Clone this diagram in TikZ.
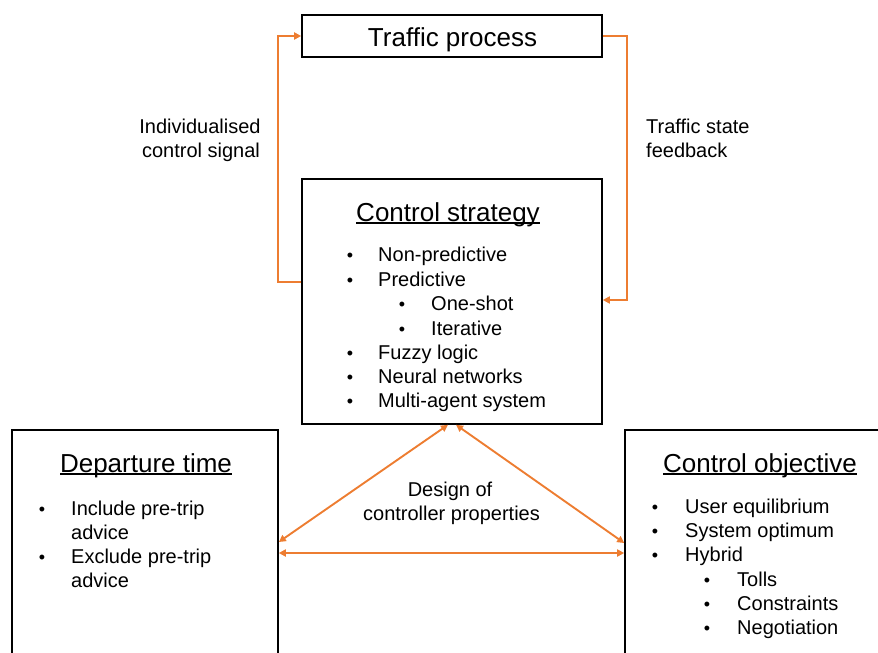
\documentclass[tikz,border=0pt]{standalone}
\usepackage{fontspec}
\setmainfont{Liberation Sans}
\usetikzlibrary{arrows.meta}
\definecolor{orng}{HTML}{ED7D31}
\newcommand{\myul}[1]{\setbox0\hbox{#1}\rlap{\rule[-2.6pt]{\wd0}{1.2pt}}\box0}
\begin{document}
\begin{tikzpicture}[x=1pt,y=-1pt,
  box/.style={draw=black, line width=1.6pt, inner sep=0pt},
  body/.style={font=\fontsize{20}{24}\selectfont, anchor=base west, inner sep=0pt},
  ttl/.style={font=\fontsize{26}{30}\selectfont, anchor=base, inner sep=0pt},
  lbl/.style={font=\fontsize{20}{24}\selectfont, anchor=base, inner sep=0pt},
  bul/.style={font=\fontsize{18}{18}\selectfont, anchor=base, inner sep=0pt},
  oarr/.style={draw=orng, line width=1.9pt, -{Triangle[length=7pt,width=7pt]}},
  darr/.style={draw=orng, line width=1.9pt, {Triangle[length=7pt,width=7pt]}-{Triangle[length=7pt,width=7pt]}}]
\clip (0,0) rectangle (878,653);
% boxes
\node[box, minimum width=300pt, minimum height=42pt] (tp) at (452,36) {};
\node[box, minimum width=300pt, minimum height=245pt] (cs) at (452,301.5) {};
\node[box, minimum width=266pt, minimum height=270pt] (dt) at (145,565) {};
\node[box, minimum width=280pt, minimum height=270pt] (co) at (765,565) {};
% titles
\node[ttl] (tpt) at (452.5,46) {Traffic process};
\node[ttl] (cst) at (448,221) {\myul{Control strategy}};
\node[ttl] (dtt) at (146,472) {\myul{Departure time}};
\node[ttl] (cot) at (760,472) {\myul{Control objective}};
% control strategy items
\node[bul] (b1) at (350,261) {•}; \node[body] (t1) at (378,261) {Non-predictive};
\node[bul] (b2) at (350,286) {•}; \node[body] (t2) at (378,286) {Predictive};
\node[bul] (b3) at (402,310) {•}; \node[body] (t3) at (431,310) {One-shot};
\node[bul] (b4) at (402,335) {•}; \node[body] (t4) at (431,335) {Iterative};
\node[bul] (b5) at (350,359) {•}; \node[body] (t5) at (378,359) {Fuzzy logic};
\node[bul] (b6) at (350,383) {•}; \node[body] (t6) at (378,383) {Neural networks};
\node[bul] (b7) at (350,407) {•}; \node[body] (t7) at (378,407) {Multi-agent system};
% departure time items
\node[bul] (d1) at (42,515) {•}; \node[body] (u1) at (71,515) {Include pre-trip};
\node[body] (u2) at (71,539) {advice};
\node[bul] (d3) at (42,563) {•}; \node[body] (u3) at (71,563) {Exclude pre-trip};
\node[body] (u4) at (71,587) {advice};
% control objective items
\node[bul] (c1) at (655,513) {•}; \node[body] (v1) at (685,513) {User equilibrium};
\node[bul] (c2) at (655,537) {•}; \node[body] (v2) at (685,537) {System optimum};
\node[bul] (c3) at (655,561) {•}; \node[body] (v3) at (685,561) {Hybrid};
\node[bul] (c4) at (707,586) {•}; \node[body] (v4) at (737,586) {Tolls};
\node[bul] (c5) at (707,610) {•}; \node[body] (v5) at (737,610) {Constraints};
\node[bul] (c6) at (707,634) {•}; \node[body] (v6) at (737,634) {Negotiation};
% side labels
\node[lbl] (l1) at (200,133) {Individualised};
\node[lbl] (l2) at (201,157) {control signal};
\node[body] (r1) at (646,133) {Traffic state};
\node[body] (r2) at (646,157) {feedback};
\node[lbl] (m1) at (450,496) {Design of};
\node[lbl] (m2) at (451.5,520) {controller properties};
% connectors
\coordinate (lc) at (278,282);
\coordinate (rc) at (627,300);
\draw[oarr] (cs.west |- lc) -- (lc) |- (tp.west);
\draw[oarr] (tp.east) -| (rc) -- (cs.east |- rc);
\draw[darr] ([xshift=-4pt]cs.south) -- (dt.east |- 0,542);
\draw[darr] ([xshift=4pt]cs.south) -- (co.west |- 0,543);
\draw[darr] (dt.east |- 0,553) -- (co.west |- 0,553);
\end{tikzpicture}
\end{document}
